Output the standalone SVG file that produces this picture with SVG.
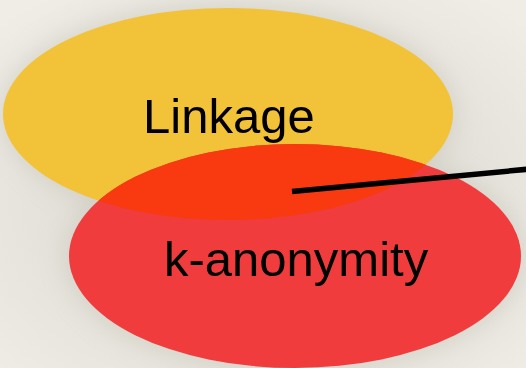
<svg xmlns="http://www.w3.org/2000/svg" width="526" height="368" viewBox="0 0 526 368">
<defs>
<style>
.lbl{font-family:"Liberation Sans","Arial",sans-serif;font-size:49px;fill:#000}
.conn{stroke:#000;stroke-width:5.5;fill:none}
</style>
<radialGradient id="bg" cx="0.5" cy="0.55" r="0.7">
<stop offset="0" stop-color="#D6D4CB"/>
<stop offset="0.6" stop-color="#E4E2DA"/>
<stop offset="1" stop-color="#EFEDE6"/>
</radialGradient>
<filter id="sh" x="-20%" y="-20%" width="140%" height="140%">
<feGaussianBlur stdDeviation="12"/>
</filter>
<clipPath id="yclip"><ellipse cx="228" cy="114" rx="225" ry="106"/></clipPath>
</defs>
<rect width="526" height="368" fill="url(#bg)"/>
<g filter="url(#sh)" fill="#C9C6BC" opacity="0.6">
<ellipse cx="228" cy="114" rx="228" ry="110"/>
<ellipse cx="295" cy="256" rx="230" ry="116"/>
</g>
<g id="linkage">
<ellipse cx="228" cy="114" rx="225" ry="106" fill="#F2C338"/>
</g>
<g id="kanon">
<ellipse cx="295" cy="256" rx="226" ry="112" fill="#F03C3C"/>
<ellipse cx="295" cy="256" rx="226" ry="112" fill="#F93A10" clip-path="url(#yclip)"/>
</g>
<text class="lbl" x="143" y="133">Linkage</text>
<text class="lbl" x="164" y="276">k-anonymity</text>
<g id="connectors">
<line class="conn" x1="292" y1="191.5" x2="530" y2="169"/>
</g>
</svg>
